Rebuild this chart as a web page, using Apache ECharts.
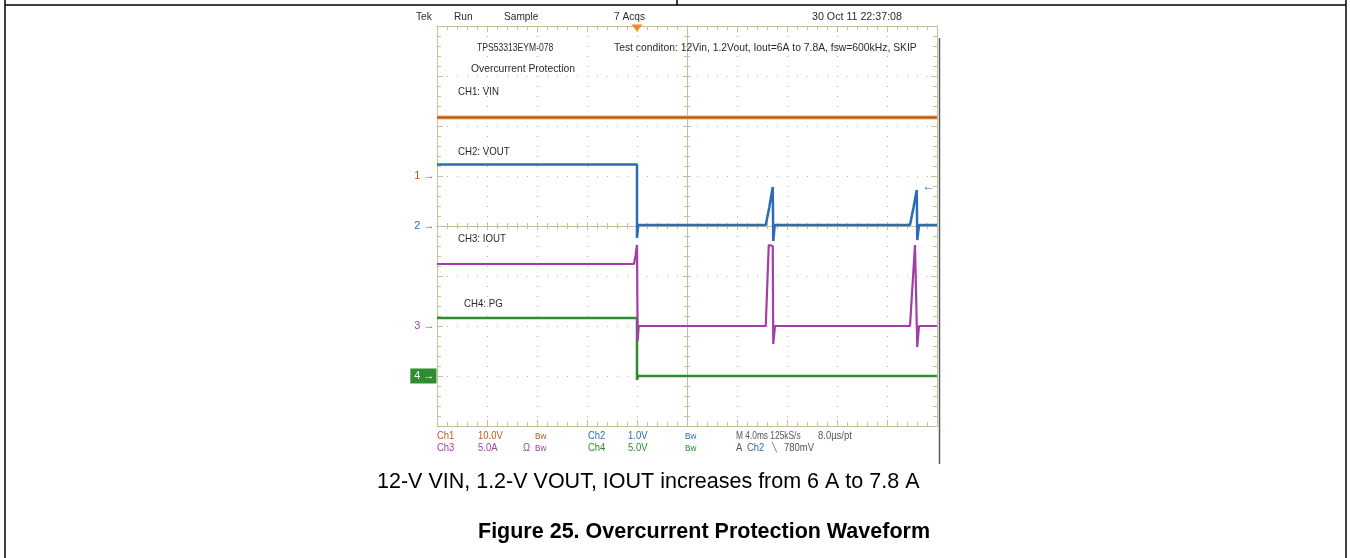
<!DOCTYPE html>
<html><head><meta charset="utf-8">
<script src="https://cdn.jsdelivr.net/npm/echarts@6/dist/echarts.min.js"></script>
<style>html,body{margin:0;padding:0;background:#fff;}#chart{width:1350px;height:558px;}</style>
</head><body><div id="chart"></div>
<script>
// ---- Time base (ms, relative to screen centre; 4.0 ms/div, 10 divisions) ----
const timeMin = -20;
const timeMax = 20;
const timePerDiv = 4;

// ---- Channel settings: volts(or amps)/div and ground marker position in divisions ----
const channelNames = ['CH1: VIN', 'CH2: VOUT', 'CH3: IOUT', 'CH4: PG'];
const channelScale = [10, 1, 5, 5];
const channelGround = [1, 0, -2, -3];
const channelColor = ['#c4581c', '#2a6cb6', '#a23ea6', '#2f8c2f'];

// ---- Waveforms ----
const ch1Time = [-20, 20];
const ch1Value = [11.7, 11.7];                       // V

const ch2Time = [-20, -4.0, -4.0, -3.9, 6.30, 6.58, 6.86, 6.90, 7.02, 17.84, 18.12, 18.38, 18.42, 18.56, 20];
const ch2Value = [1.23, 1.23, -0.24, 0.02, 0.02, 0.37, 0.78, -0.30, 0.02, 0.02, 0.37, 0.72, -0.28, 0.02, 0.02]; // V

const ch3Time = [-20, -4.25, -4.12, -4.0, -3.95, -3.86, 6.30, 6.54, 6.86, 6.90, 7.04, 17.84, 18.24, 18.38, 18.42, 18.56, 20];
const ch3Value = [6.2, 6.2, 7.0, 8.1, -1.5, 0, 0, 8.1, 8.0, -1.8, 0, 0, 8.1, 8.0, -2.1, 0, 0];  // A

const ch4Time = [-20, -4.0, -4.0, -3.9, 20];
const ch4Value = [5.8, 5.8, -0.4, 0, 0];              // V

const triggerTime = -4;      // ms
const triggerLevel = 0.78;   // V on Ch2

// ---- Screen text ----
const headerTexts = ['Tek', 'Run', 'Sample', '7 Acqs', '30 Oct 11 22:37:08'];
const noteTexts = ['TPS53313EYM-078', 'Overcurrent Protection', 'Test conditon: 12Vin, 1.2Vout, Iout=6A to 7.8A, fsw=600kHz, SKIP'];
const captionLine = '12-V VIN, 1.2-V VOUT, IOUT increases from 6 A to 7.8 A';
const captionTitle = 'Figure 25. Overcurrent Protection Waveform';

const chart = echarts.init(document.getElementById('chart'), null, {renderer: 'canvas'});

const toDiv = (vals, ch) => vals.map(v => channelGround[ch] + v / channelScale[ch]);
const pairs = (t, v) => t.map((x, i) => [x, v[i]]);

const gridCol = '#c9bd9f';
const dotCol = '#b4b4b4';
const scopeFont = '"Liberation Sans", Arial, sans-serif';
const txtCol = '#2a2a2a';

function xAx(extra) {
  return Object.assign({
    type: 'value', min: timeMin, max: timeMax, interval: timePerDiv,
    axisLabel: {show: false},
    axisLine: {show: true, onZero: false, lineStyle: {color: gridCol, width: 1}},
    axisTick: {show: true, inside: true, length: 6, lineStyle: {color: gridCol}},
    minorTick: {show: true, splitNumber: 5, length: 4, lineStyle: {color: gridCol}},
    splitLine: {show: false}
  }, extra);
}
function yAx(extra) {
  return Object.assign({
    type: 'value', min: -4, max: 4, interval: 1,
    axisLabel: {show: false},
    axisLine: {show: true, onZero: false, lineStyle: {color: gridCol, width: 1}},
    axisTick: {show: true, inside: true, length: 6, lineStyle: {color: gridCol}},
    minorTick: {show: true, splitNumber: 5, length: 4, lineStyle: {color: gridCol}},
    splitLine: {show: false}
  }, extra);
}
const centreLine = (inside) => ({
  axisLine: {show: true, onZero: true, onZeroAxisIndex: 0, lineStyle: {color: gridCol}},
  axisTick: {show: true, inside, length: 4, lineStyle: {color: gridCol}},
  minorTick: {show: true, splitNumber: 5, length: 3, lineStyle: {color: gridCol}}
});

const markerData = [0, 1, 2, 3].map(ch => {
  const isBox = ch === 3;
  return {
    coord: [timeMin, channelGround[ch]],
    symbol: 'circle', symbolSize: 1, itemStyle: {color: 'rgba(0,0,0,0)'},
    label: {
      show: true, position: 'left', distance: isBox ? 0 : 2,
      formatter: (ch + 1) + ' \u2192',
      color: isBox ? '#ffffff' : channelColor[ch],
      fontFamily: scopeFont, fontSize: 11,
      backgroundColor: isBox ? '#2f8c2f' : 'transparent',
      padding: isBox ? [2, 2, 2, 4] : 0
    }
  };
});

const lineSeries = (name, data, color, width, z, extra) => Object.assign({
  name, type: 'line', data, showSymbol: false, symbol: 'none', clip: false,
  xAxisIndex: 0, yAxisIndex: 0, z,
  lineStyle: {color, width, join: 'bevel'}, animation: false, silent: true
}, extra || {});

const ch1Data = pairs(ch1Time, toDiv(ch1Value, 0));
const series = [
  lineSeries('VIN noise', ch1Data, '#e8c44e', 5, 3, {lineStyle: {color: '#e8c44e', width: 5, opacity: 0.55}}),
  lineSeries('VIN', ch1Data, channelColor[0], 2.4, 4, {
    markPoint: {silent: true, animation: false, data: markerData}
  }),
  lineSeries('VOUT', pairs(ch2Time, toDiv(ch2Value, 1)), channelColor[1], 2.5, 5, {
    markPoint: {silent: true, animation: false, data: [
      {coord: [triggerTime, 4], symbol: 'triangle', symbolRotate: 180, symbolSize: [11, 7], symbolOffset: [0, 2],
       itemStyle: {color: '#f0892a'}, label: {show: false}},
      {coord: [timeMax, channelGround[1] + triggerLevel / channelScale[1]], symbol: 'circle', symbolSize: 1,
       itemStyle: {color: 'rgba(0,0,0,0)'},
       label: {show: true, position: 'left', distance: 2, formatter: '\u2190', color: channelColor[1], fontSize: 12, fontFamily: scopeFont}}
    ]}
  }),
  lineSeries('IOUT', pairs(ch3Time, toDiv(ch3Value, 2)), channelColor[2], 2.2, 6),
  lineSeries('PG', pairs(ch4Time, toDiv(ch4Value, 3)), channelColor[3], 2.5, 4)
];

function txt(text, x, y, color, size, sx, weight) {
  return {type: 'text', silent: true, z: 100, x, y, scaleX: sx || 1,
    style: {text, x: 0, y: 0, fill: color || txtCol,
      font: (weight ? weight + ' ' : '') + (size || 11) + 'px ' + scopeFont, verticalAlign: 'middle', align: 'left'}};
}
const RO = 0.86;   // condensed readout font
const rs = 11;

const graphics = [
  // document table frame
  {type: 'line', silent: true, shape: {x1: 5, y1: 5, x2: 1346, y2: 5}, style: {stroke: '#000', lineWidth: 1.5}},
  {type: 'line', silent: true, shape: {x1: 5, y1: 0, x2: 5, y2: 558}, style: {stroke: '#000', lineWidth: 1.5}},
  {type: 'line', silent: true, shape: {x1: 1346, y1: 0, x2: 1346, y2: 558}, style: {stroke: '#000', lineWidth: 1.5}},
  {type: 'line', silent: true, shape: {x1: 677, y1: 0, x2: 677, y2: 5}, style: {stroke: '#000', lineWidth: 1.5}},
  // scope screen right edge
  {type: 'line', silent: true, shape: {x1: 939.5, y1: 38, x2: 939.5, y2: 464}, style: {stroke: '#5a5a5a', lineWidth: 1.5}},
  // header
  txt(headerTexts[0], 416, 17, null, 11, 0.92), txt(headerTexts[1], 454, 17, null, 11, 0.92), txt(headerTexts[2], 504, 17, null, 11, 0.92),
  txt(headerTexts[3], 614, 17, null, 11, 0.92), txt(headerTexts[4], 812, 17, null, 11, 0.97),
  // notes
  txt(noteTexts[0], 477, 48, null, 11, 0.78), txt(noteTexts[1], 471, 69, null, 11, 0.94), txt(noteTexts[2], 614, 48, null, 11, 0.94),
  txt(channelNames[0], 458, 92, null, 11, 0.88), txt(channelNames[1], 458, 152, null, 11, 0.88),
  txt(channelNames[2], 458, 239, null, 11, 0.88), txt(channelNames[3], 464, 304, null, 11, 0.88),
  // bottom readout row 1
  txt('Ch1', 437, 436, channelColor[0], rs, RO), txt('10.0V', 478, 436, channelColor[0], rs, RO), txt('Bw', 535, 436, channelColor[0], 9.5, RO),
  txt('Ch2', 588, 436, channelColor[1], rs, RO), txt('1.0V', 628, 436, channelColor[1], rs, RO), txt('Bw', 685, 436, channelColor[1], 9.5, RO),
  txt('M 4.0ms 125kS/s', 736, 436, '#555', rs, 0.76), txt('8.0\u00b5s/pt', 818, 436, '#555', rs, RO),
  // bottom readout row 2
  txt('Ch3', 437, 448, channelColor[2], rs, RO), txt('5.0A', 478, 448, channelColor[2], rs, RO), txt('\u03a9', 523, 448, channelColor[2], rs, RO), txt('Bw', 535, 448, channelColor[2], 9.5, RO),
  txt('Ch4', 588, 448, channelColor[3], rs, RO), txt('5.0V', 628, 448, channelColor[3], rs, RO), txt('Bw', 685, 448, channelColor[3], 9.5, RO),
  txt('A', 736, 448, '#555', rs, RO), txt('Ch2', 747, 448, channelColor[1], rs, RO), txt('\u2572', 772, 448, '#555', 9, RO), txt('780mV', 784, 448, '#555', rs, RO),
  // document caption
  txt(captionLine, 377, 482, '#000', 21.5, 1),
  txt(captionTitle, 478, 532, '#000', 21.5, 1, 'bold')
];

chart.setOption({
  animation: false,
  backgroundColor: '#ffffff',
  grid: {left: 437, top: 26, width: 500, height: 400, show: false, containLabel: false, outerBoundsMode: 'none'},
  xAxis: [
    xAx({position: 'bottom', splitLine: {show: true, lineStyle: {color: dotCol, type: [1, 9], width: 1.2}}}),
    xAx({position: 'top'}),
    xAx(Object.assign({position: 'bottom'}, centreLine(false))),
    xAx(Object.assign({position: 'bottom'}, centreLine(true)))
  ],
  yAxis: [
    yAx({position: 'left', splitLine: {show: true, lineStyle: {color: dotCol, type: [1, 9], width: 1.2}}}),
    yAx({position: 'right'}),
    yAx(Object.assign({position: 'left'}, centreLine(false))),
    yAx(Object.assign({position: 'left'}, centreLine(true)))
  ],
  series,
  graphic: graphics
});
</script>
</body></html>
